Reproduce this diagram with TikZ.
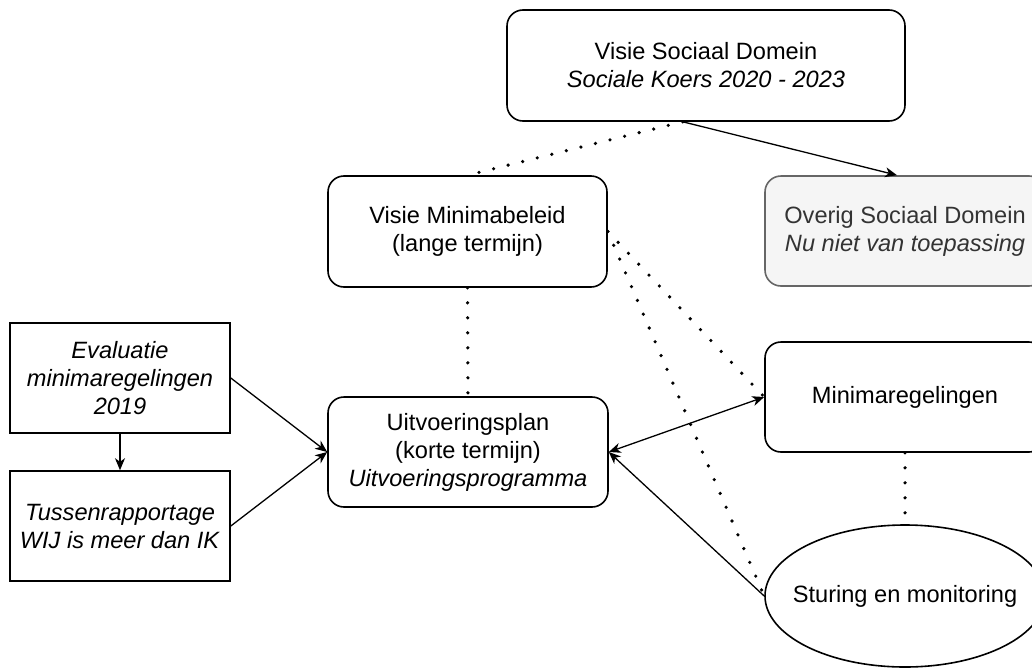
\documentclass[tikz,border=0pt]{standalone}
\usepackage{fontspec}
\setmainfont{Liberation Sans}
\usepackage{xcolor}
\usetikzlibrary{arrows.meta,shapes.geometric,calc}
\definecolor{greyfill}{HTML}{F5F5F5}
\definecolor{greyline}{HTML}{666666}
\definecolor{greytext}{HTML}{333333}
\tikzset{
	plainbox/.style={draw, line width=0.8pt, align=center, inner sep=2pt,
			font=\fontsize{11.8}{14}\selectfont},
	roundbox/.style={plainbox, rounded corners=8pt},
	linkdots/.style={line width=1.8pt, line cap=round, dash pattern=on 0pt off 7.5pt},
	linkarrow/.style={line width=0.65pt, -{Stealth[length=6pt,width=5pt,inset=1.8pt]}},
	linkboth/.style={line width=0.65pt, {Stealth[length=6pt,width=5pt,inset=1.8pt]}-{Stealth[length=6pt,width=5pt,inset=1.8pt]}}
}

\begin{document}
\begin{tikzpicture}[x=0.5pt,y=-0.5pt]
        \useasboundingbox (0,0) rectangle (1032,669);
        \node[roundbox,minimum width=199pt,minimum height=55.5pt] (vsd) at (706,65.5)
            {Visie Sociaal Domein\\\textit{Sociale Koers 2020 - 2023}};
        \node[roundbox,fill=greyfill,draw=greyline,text=greytext,minimum width=140pt,minimum height=55pt] (osd) at (905,231)
            {Overig Sociaal Domein\\\textit{Nu niet van toepassing}};
        \node[roundbox,minimum width=139.5pt,minimum height=55.5pt] (vmb) at (467.5,231.5)
            {Visie Minimabeleid\\(lange termijn)};
        \node[roundbox,minimum width=140pt,minimum height=55pt] (uvp) at (468,452)
            {Uitvoeringsplan\\(korte termijn)\\\textit{Uitvoeringsprogramma}};
        \node[roundbox,minimum width=140pt,minimum height=55pt] (mr) at (905,397)
            {Minimaregelingen};
        \node[plainbox,ellipse,inner sep=0pt,minimum width=140pt,minimum height=71pt] (sm) at (905,596)
            {\makebox[0pt]{Sturing en monitoring}};
        \node[plainbox,minimum width=110pt,minimum height=55pt] (eval) at (120,378)
            {\textit{Evaluatie}\\\textit{minimaregelingen}\\\textit{2019}};
        \node[plainbox,minimum width=110pt,minimum height=55pt] (tuss) at (120,526)
            {\textit{Tussenrapportage}\\\textit{WIJ is meer dan IK}};
        \coordinate (vsd_out) at ($(vsd.south west)!0.442!(vsd.south east)$);
        \draw[linkdots] (vsd_out) -- (vmb.north);
        \draw[linkarrow] (vsd_out) -- ($(osd.north)+(-8,0)$);
        \draw[linkdots] (vmb.south) -- (uvp.north);
        \draw[linkdots] (vmb.east) -- (mr.west);
        \draw[linkdots] (vmb.east) -- (sm.west);
        \draw[linkdots] (mr.south) -- (sm.north);
        \draw[linkboth] (uvp.east) -- (mr.west);
        \draw[linkarrow] (sm.west) -- (uvp.east);
        \draw[linkarrow] (eval.east) -- (uvp.west);
        \draw[linkarrow] (tuss.east) -- (uvp.west);
        \draw[linkarrow] (eval.south) -- (tuss.north);
    \end{tikzpicture}
\end{document}
